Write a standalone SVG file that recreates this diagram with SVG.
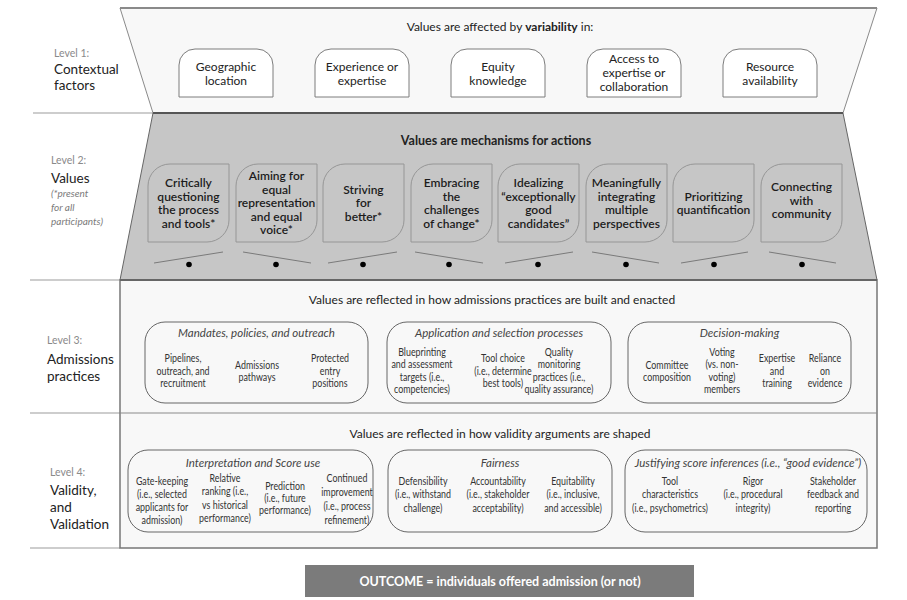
<svg xmlns="http://www.w3.org/2000/svg" width="907" height="600" viewBox="0 0 907 600">
<style>
text{font-family:Lato,"Liberation Sans",sans-serif}
.lvl{font-size:10.5px;fill:#8a8a8a}
.lbl{font-size:13.5px;fill:#222}
.note{font-size:10px;font-style:italic;fill:#7a7a7a}
.title{font-size:12px;fill:#222;text-anchor:middle}
.btitle{font-size:12.5px;font-weight:bold;fill:#222;text-anchor:middle}
.bx{fill:#fff;stroke:#7c7c7c;stroke-width:1}
.bxt{font-size:12px;fill:#222;text-anchor:middle}
.leaf{fill:#c6c6c6;stroke:#969696;stroke-width:1}
.ndt{font-size:12px;font-weight:600;fill:#1c1c1c;text-anchor:middle}
.grp{fill:none;stroke:#666;stroke-width:1}
.hd{font-size:11.5px;font-style:italic;fill:#444;text-anchor:middle}
.c{font-size:12px;fill:#333;text-anchor:middle}
.sep{stroke:#bdbdbd;stroke-width:1.5}
.lever{stroke:#7a7a7a;stroke-width:1}
</style>

<!-- left separators -->
<g id="separators">
<line class="sep" x1="33" y1="113" x2="153" y2="113"/>
<line class="sep" x1="30" y1="280" x2="120" y2="280"/>
<line class="sep" x1="30" y1="413" x2="120" y2="413"/>
<line class="sep" x1="30" y1="548" x2="120" y2="548"/>
</g>

<!-- frames -->
<g id="frames">
<polygon points="120,8 877,8 843,113 153,113" fill="#f8f8f8" stroke="#8a8a8a" stroke-width="1"/>
<line x1="120" y1="8" x2="877" y2="8" stroke="#8a8a8a" stroke-width="2"/>
<polygon points="153,113 843,113 877,280 120,280" fill="#c6c6c6" stroke="#666" stroke-width="1"/>
<line x1="153" y1="113" x2="843" y2="113" stroke="#555" stroke-width="2"/>
<rect x="120" y="280" width="757" height="268" fill="#f8f8f8" stroke="#777" stroke-width="1.5"/>
<line x1="120" y1="280" x2="877" y2="280" stroke="#666" stroke-width="2"/>
<line x1="120" y1="413" x2="877" y2="413" stroke="#8a8a8a" stroke-width="1.2"/>
</g>

<!-- level labels -->
<g id="labels">
<text class="lvl" x="54" y="57">Level 1:</text>
<text class="lbl" x="54" y="74">Contextual</text>
<text class="lbl" x="54" y="90">factors</text>
<text class="lvl" x="51" y="164">Level 2:</text>
<text class="lbl" x="51" y="183">Values</text>
<text class="note" x="51" y="197">(*present</text>
<text class="note" x="51" y="211">for all</text>
<text class="note" x="51" y="225">participants)</text>
<text class="lvl" x="47" y="344">Level 3:</text>
<text class="lbl" x="47" y="364">Admissions</text>
<text class="lbl" x="47" y="381">practices</text>
<text class="lvl" x="50" y="476">Level 4:</text>
<text class="lbl" x="50" y="495">Validity,</text>
<text class="lbl" x="50" y="512">and</text>
<text class="lbl" x="50" y="529">Validation</text>
</g>

<!-- titles -->
<text class="title" x="500" y="31">Values are affected by <tspan font-weight="bold">variability</tspan> in:</text>
<text class="btitle" x="496" y="145">Values are mechanisms for actions</text>
<text class="title" x="492" y="304">Values are reflected in how admissions practices are built and enacted</text>
<text class="title" x="500" y="438">Values are reflected in how validity arguments are shaped</text>

<!-- Level 1 nodes -->
<g id="geographic">
<path class="bx" d="M179,97 V65 A16,16 0 0 1 195,49 H257 A16,16 0 0 1 273,65 V97 Z"/>
<text class="bxt" x="226" y="71">Geographic</text><text class="bxt" x="226" y="85">location</text>
</g>
<g id="experience">
<path class="bx" d="M315,97 V65 A16,16 0 0 1 331,49 H393 A16,16 0 0 1 409,65 V97 Z"/>
<text class="bxt" x="362" y="71">Experience or</text><text class="bxt" x="362" y="85">expertise</text>
</g>
<g id="equity">
<path class="bx" d="M451,97 V65 A16,16 0 0 1 467,49 H529 A16,16 0 0 1 545,65 V97 Z"/>
<text class="bxt" x="498" y="71">Equity</text><text class="bxt" x="498" y="85">knowledge</text>
</g>
<g id="access">
<path class="bx" d="M587,97 V65 A16,16 0 0 1 603,49 H665 A16,16 0 0 1 681,65 V97 Z"/>
<text class="bxt" x="634" y="63">Access to</text><text class="bxt" x="634" y="77">expertise or</text><text class="bxt" x="634" y="91">collaboration</text>
</g>
<g id="resource">
<path class="bx" d="M723,97 V65 A16,16 0 0 1 739,49 H801 A16,16 0 0 1 817,65 V97 Z"/>
<text class="bxt" x="770" y="71">Resource</text><text class="bxt" x="770" y="85">availability</text>
</g>

<!-- Level 2 nodes -->
<g id="critically">
<path class="leaf" d="M148,242 V186 A22,22 0 0 1 170,164 H229 V220 A22,22 0 0 1 207,242 Z"/>
<text class="ndt"><tspan x="188.5" y="187">Critically</tspan><tspan x="188.5" y="200.5">questioning</tspan><tspan x="188.5" y="214">the process</tspan><tspan x="188.5" y="227.5">and tools*</tspan></text>
</g>
<g id="aiming">
<path class="leaf" d="M236,242 V186 A22,22 0 0 1 258,164 H317 V220 A22,22 0 0 1 295,242 Z"/>
<text class="ndt"><tspan x="276.5" y="180.3">Aiming for</tspan><tspan x="276.5" y="193.8">equal</tspan><tspan x="276.5" y="207.3">representation</tspan><tspan x="276.5" y="220.8">and equal</tspan><tspan x="276.5" y="234.3">voice*</tspan></text>
</g>
<g id="striving">
<path class="leaf" d="M323,242 V186 A22,22 0 0 1 345,164 H404 V220 A22,22 0 0 1 382,242 Z"/>
<text class="ndt"><tspan x="363.5" y="193.8">Striving</tspan><tspan x="363.5" y="207.3">for</tspan><tspan x="363.5" y="220.8">better*</tspan></text>
</g>
<g id="embracing">
<path class="leaf" d="M411,242 V186 A22,22 0 0 1 433,164 H492 V220 A22,22 0 0 1 470,242 Z"/>
<text class="ndt"><tspan x="451.5" y="187">Embracing</tspan><tspan x="451.5" y="200.5">the</tspan><tspan x="451.5" y="214">challenges</tspan><tspan x="451.5" y="227.5">of change*</tspan></text>
</g>
<g id="idealizing">
<path class="leaf" d="M498,242 V186 A22,22 0 0 1 520,164 H579 V220 A22,22 0 0 1 557,242 Z"/>
<text class="ndt"><tspan x="538.5" y="187">Idealizing</tspan><tspan x="538.5" y="200.5">“exceptionally</tspan><tspan x="538.5" y="214">good</tspan><tspan x="538.5" y="227.5">candidates”</tspan></text>
</g>
<g id="meaningfully">
<path class="leaf" d="M586,242 V186 A22,22 0 0 1 608,164 H667 V220 A22,22 0 0 1 645,242 Z"/>
<text class="ndt"><tspan x="626.5" y="187">Meaningfully</tspan><tspan x="626.5" y="200.5">integrating</tspan><tspan x="626.5" y="214">multiple</tspan><tspan x="626.5" y="227.5">perspectives</tspan></text>
</g>
<g id="prioritizing">
<path class="leaf" d="M673,242 V186 A22,22 0 0 1 695,164 H754 V220 A22,22 0 0 1 732,242 Z"/>
<text class="ndt"><tspan x="713.5" y="200.5">Prioritizing</tspan><tspan x="713.5" y="214">quantification</tspan></text>
</g>
<g id="connecting">
<path class="leaf" d="M761,242 V186 A22,22 0 0 1 783,164 H842 V220 A22,22 0 0 1 820,242 Z"/>
<text class="ndt"><tspan x="801.5" y="191">Connecting</tspan><tspan x="801.5" y="204.5">with</tspan><tspan x="801.5" y="218">community</tspan></text>
</g>

<!-- levers -->
<g id="connectors">
<line class="lever" x1="154" y1="263" x2="223" y2="252"/><circle cx="189" cy="264.5" r="2.8"/>
<line class="lever" x1="243" y1="252" x2="311" y2="263"/><circle cx="276" cy="264.5" r="2.8"/>
<line class="lever" x1="328" y1="263" x2="397" y2="252"/><circle cx="363" cy="264.5" r="2.8"/>
<line class="lever" x1="415" y1="252" x2="483" y2="263"/><circle cx="449" cy="264.5" r="2.8"/>
<line class="lever" x1="505" y1="263" x2="573" y2="252"/><circle cx="538" cy="264.5" r="2.8"/>
<line class="lever" x1="592" y1="252" x2="659" y2="263"/><circle cx="626" cy="264.5" r="2.8"/>
<line class="lever" x1="681" y1="263" x2="748" y2="252"/><circle cx="714" cy="264.5" r="2.8"/>
<line class="lever" x1="769" y1="252" x2="836" y2="263"/><circle cx="802" cy="264.5" r="2.8"/>
</g>

<!-- Level 3 -->
<g id="mandates">
<rect class="grp" x="145" y="322" width="223" height="81" rx="20"/>
<text class="hd" x="256.5" y="337">Mandates, policies, and outreach</text>
<text class="c" transform="translate(183,0) scale(0.74,1)"><tspan x="0" y="362.5">Pipelines,</tspan><tspan x="0" y="375">outreach, and</tspan><tspan x="0" y="387.5">recruitment</tspan></text>
<text class="c" transform="translate(257,0) scale(0.74,1)"><tspan x="0" y="369">Admissions</tspan><tspan x="0" y="381.5">pathways</tspan></text>
<text class="c" transform="translate(330,0) scale(0.74,1)"><tspan x="0" y="362.5">Protected</tspan><tspan x="0" y="375">entry</tspan><tspan x="0" y="387.5">positions</tspan></text>
</g>
<g id="application">
<rect class="grp" x="387" y="322" width="224" height="81" rx="20"/>
<text class="hd" x="499" y="337">Application and selection processes</text>
<text class="c" transform="translate(422,0) scale(0.74,1)"><tspan x="0" y="356">Blueprinting</tspan><tspan x="0" y="368.5">and assessment</tspan><tspan x="0" y="381">targets (i.e.,</tspan><tspan x="0" y="393.5">competencies)</tspan></text>
<text class="c" transform="translate(503,0) scale(0.74,1)"><tspan x="0" y="362.5">Tool choice</tspan><tspan x="0" y="375">(i.e., determine</tspan><tspan x="0" y="387.5">best tools)</tspan></text>
<text class="c" transform="translate(559,0) scale(0.74,1)"><tspan x="0" y="356">Quality</tspan><tspan x="0" y="368.5">monitoring</tspan><tspan x="0" y="381">practices (i.e.,</tspan><tspan x="0" y="393.5">quality assurance)</tspan></text>
</g>
<g id="decision">
<rect class="grp" x="628" y="322" width="223" height="81" rx="20"/>
<text class="hd" x="739.5" y="337">Decision-making</text>
<text class="c" transform="translate(667,0) scale(0.74,1)"><tspan x="0" y="369">Committee</tspan><tspan x="0" y="381.5">composition</tspan></text>
<text class="c" transform="translate(722,0) scale(0.74,1)"><tspan x="0" y="356">Voting</tspan><tspan x="0" y="368.5">(vs. non-</tspan><tspan x="0" y="381">voting)</tspan><tspan x="0" y="393.5">members</tspan></text>
<text class="c" transform="translate(777,0) scale(0.74,1)"><tspan x="0" y="362.5">Expertise</tspan><tspan x="0" y="375">and</tspan><tspan x="0" y="387.5">training</tspan></text>
<text class="c" transform="translate(825,0) scale(0.74,1)"><tspan x="0" y="362.5">Reliance</tspan><tspan x="0" y="375">on</tspan><tspan x="0" y="387.5">evidence</tspan></text>
</g>

<!-- Level 4 -->
<g id="interpretation">
<rect class="grp" x="128" y="450" width="245" height="82" rx="20"/>
<text class="hd" x="253" y="467">Interpretation and Score use</text>
<text class="c" transform="translate(162,0) scale(0.74,1)"><tspan x="0" y="485">Gate-keeping</tspan><tspan x="0" y="498">(i.e., selected</tspan><tspan x="0" y="511">applicants for</tspan><tspan x="0" y="524">admission)</tspan></text>
<text class="c" transform="translate(225,0) scale(0.74,1)"><tspan x="0" y="482">Relative</tspan><tspan x="0" y="495.5">ranking (i.e.,</tspan><tspan x="0" y="509">vs historical</tspan><tspan x="0" y="522.5">performance)</tspan></text>
<text class="c" transform="translate(285,0) scale(0.74,1)"><tspan x="0" y="490">Prediction</tspan><tspan x="0" y="502">(i.e., future</tspan><tspan x="0" y="514">performance)</tspan></text>
<text class="c" transform="translate(347,0) scale(0.74,1)"><tspan x="0" y="482">Continued</tspan><tspan x="0" y="496">improvement</tspan><tspan x="0" y="510">(i.e., process</tspan><tspan x="0" y="524">refinement)</tspan></text>
</g>
<g id="fairness">
<rect class="grp" x="388" y="450" width="224" height="82" rx="20"/>
<text class="hd" x="500" y="467">Fairness</text>
<text class="c" transform="translate(423,0) scale(0.74,1)"><tspan x="0" y="485">Defensibility</tspan><tspan x="0" y="498.5">(i.e., withstand</tspan><tspan x="0" y="512">challenge)</tspan></text>
<text class="c" transform="translate(498,0) scale(0.74,1)"><tspan x="0" y="485">Accountability</tspan><tspan x="0" y="498.5">(i.e., stakeholder</tspan><tspan x="0" y="512">acceptability)</tspan></text>
<text class="c" transform="translate(573,0) scale(0.74,1)"><tspan x="0" y="485">Equitability</tspan><tspan x="0" y="498.5">(i.e., inclusive,</tspan><tspan x="0" y="512">and accessible)</tspan></text>
</g>
<g id="justifying">
<rect class="grp" x="625" y="450" width="242" height="82" rx="20"/>
<text class="hd" x="748" y="467">Justifying score inferences (i.e., “good evidence”)</text>
<text class="c" transform="translate(670,0) scale(0.74,1)"><tspan x="0" y="485">Tool</tspan><tspan x="0" y="498.5">characteristics</tspan><tspan x="0" y="512">(i.e., psychometrics)</tspan></text>
<text class="c" transform="translate(753,0) scale(0.74,1)"><tspan x="0" y="485">Rigor</tspan><tspan x="0" y="498.5">(i.e., procedural</tspan><tspan x="0" y="512">integrity)</tspan></text>
<text class="c" transform="translate(833,0) scale(0.74,1)"><tspan x="0" y="485">Stakeholder</tspan><tspan x="0" y="498.5">feedback and</tspan><tspan x="0" y="512">reporting</tspan></text>
</g>

<!-- Outcome -->
<g id="outcome">
<rect x="305" y="565" width="389" height="32" fill="#7b7b7b"/>
<text x="500" y="586" font-size="12.5" font-weight="bold" fill="#fff" text-anchor="middle">OUTCOME = individuals offered admission (or not)</text>
</g>
</svg>
